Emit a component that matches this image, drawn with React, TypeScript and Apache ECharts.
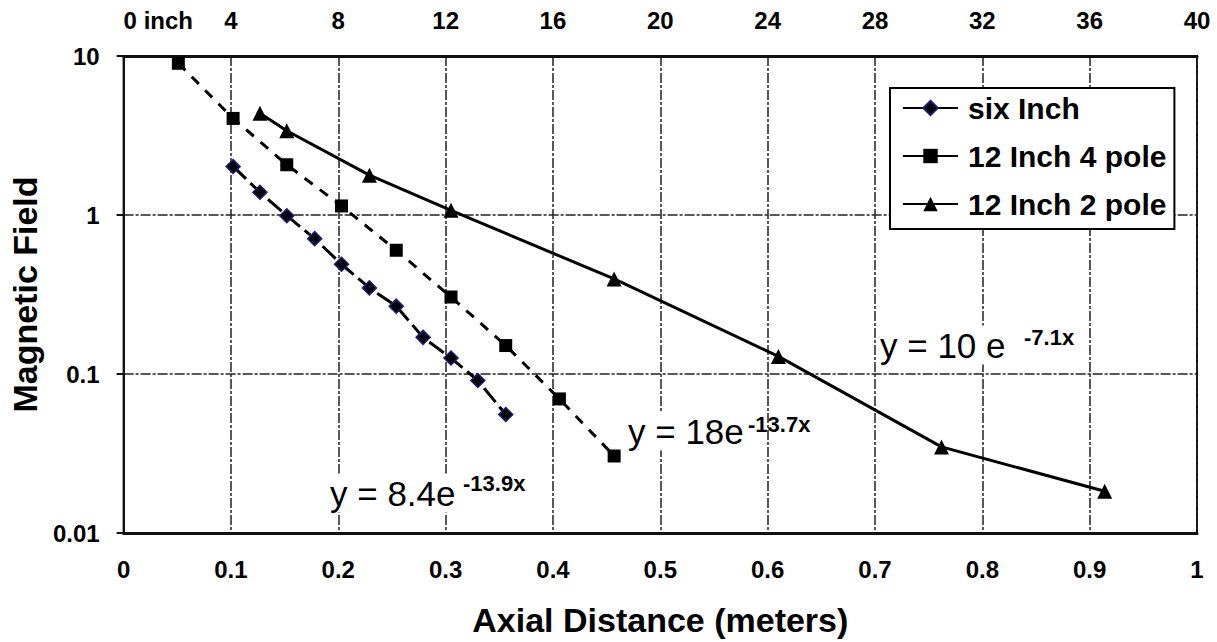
import React, { useEffect, useRef } from "react";
import * as echarts from "echarts";

// Axial distance (meters) and magnetic field readings
const sixInchX = [0.102, 0.127, 0.152, 0.178, 0.203, 0.229, 0.254, 0.279, 0.305, 0.33, 0.356];
const sixInchY = [2.02, 1.39, 0.99, 0.71, 0.49, 0.348, 0.267, 0.17, 0.126, 0.091, 0.0556];

const fourPoleX = [0.051, 0.102, 0.152, 0.203, 0.254, 0.305, 0.356, 0.406, 0.457];
const fourPoleY = [9.0, 4.05, 2.07, 1.14, 0.6, 0.305, 0.151, 0.0697, 0.0305];

const twoPoleX = [0.127, 0.152, 0.229, 0.305, 0.457, 0.61, 0.762, 0.914];
const twoPoleY = [4.36, 3.39, 1.78, 1.07, 0.396, 0.129, 0.0348, 0.0183];

const seriesNames = ["six Inch", "12 Inch 4 pole", "12 Inch 2 pole"];

const FONT = '"Liberation Sans", Arial, sans-serif';

const zip = (xs: number[], ys: number[]) => xs.map((x, i) => [x, ys[i]]);

export default function App() {
  const ref = useRef<HTMLDivElement>(null);

  useEffect(() => {
    if (!ref.current) return;
    const chart = echarts.init(ref.current, undefined, { renderer: "svg" });
    const gridLine = { show: true, lineStyle: { color: "#222", type: [10, 2, 3, 2], width: 1.5 } };
    const tickLabel = { fontFamily: FONT, fontWeight: "bold" as const, fontSize: 24, color: "#000" };

    const option: any = {
      animation: false,
      backgroundColor: "#fff",
      grid: {
        left: 116,
        right: 20,
        top: 56,
        bottom: 103,
        show: true,
        borderColor: "#111",
        borderWidth: 2,
        backgroundColor: "#fff",
      },
      xAxis: [
        {
          type: "value",
          min: 0,
          max: 1,
          interval: 0.1,
          position: "bottom",
          axisLine: { show: true, lineStyle: { color: "#111", width: 3 } },
          axisTick: { show: false },
          axisLabel: { ...tickLabel, margin: 24 },
          splitLine: gridLine,
          name: "Axial Distance (meters)",
          nameLocation: "middle",
          nameGap: 70,
          nameTextStyle: { fontFamily: FONT, fontWeight: "bold", fontSize: 34, color: "#000" },
        },
        {
          type: "value",
          min: 0,
          max: 40,
          interval: 4,
          position: "top",
          axisLine: { show: true, lineStyle: { color: "#111", width: 3 } },
          axisTick: { show: false },
          splitLine: { show: false },
          axisLabel: {
            ...tickLabel,
            margin: 24,
            alignMinLabel: "left",
            formatter: (v: number) => (v === 0 ? "0 inch" : String(v)),
          },
        },
      ],
      yAxis: {
        type: "log",
        logBase: 10,
        min: 0.01,
        max: 10,
        axisLine: { show: true, lineStyle: { color: "#111", width: 2 } },
        axisTick: { show: true, inside: false, length: 7, lineStyle: { color: "#111", width: 2 } },
        minorTick: { show: false },
        axisLabel: {
          ...tickLabel,
          margin: 24,
          formatter: (v: number) => String(parseFloat(v.toPrecision(3))),
        },
        splitLine: gridLine,
        name: "Magnetic Field",
        nameLocation: "middle",
        nameGap: 74,
        nameTextStyle: { fontFamily: FONT, fontWeight: "bold", fontSize: 34, color: "#000" },
      },
      legend: {
        orient: "vertical",
        left: 890,
        top: 88,
        padding: [5, 8, 10, 12],
        borderColor: "#000",
        borderWidth: 2,
        borderRadius: 0,
        backgroundColor: "#fff",
        itemWidth: 55,
        itemHeight: 18,
        itemGap: 18,
        data: seriesNames,
        lineStyle: { type: "solid", width: 2, color: "#000" },
        textStyle: {
          fontFamily: FONT,
          fontWeight: "bold",
          fontSize: 30,
          color: "#000",
          lineHeight: 30,
          padding: [0, 0, 0, 5],
        },
      },
      series: [
        {
          name: seriesNames[0],
          type: "line",
          data: zip(sixInchX, sixInchY),
          symbol: "diamond",
          symbolSize: 14,
          itemStyle: { color: "#000", borderColor: "#1c1c7a", borderWidth: 1.5 },
          lineStyle: { color: "#000", width: 3, type: [18, 6] },
          z: 5,
        },
        {
          name: seriesNames[1],
          type: "line",
          data: zip(fourPoleX, fourPoleY),
          symbol: "rect",
          symbolSize: 13,
          itemStyle: { color: "#000" },
          lineStyle: { color: "#000", width: 3, type: [10, 9] },
          z: 4,
        },
        {
          name: seriesNames[2],
          type: "line",
          data: zip(twoPoleX, twoPoleY),
          symbol: "triangle",
          symbolSize: 15,
          itemStyle: { color: "#000" },
          lineStyle: { color: "#000", width: 3, type: "solid" },
          z: 3,
        },
      ],
      graphic: [
        {
          type: "text",
          x: 326,
          y: 493,
          z: 10,
          style: {
            text: "y = 8.4e",
            font: `35px ${FONT}`,
            fill: "#000",
            verticalAlign: "middle",
            backgroundColor: "#fff",
            padding: [2, 4],
          },
        },
        {
          type: "text",
          x: 463,
          y: 483,
          z: 11,
          style: { text: "-13.9x", font: `bold 22px ${FONT}`, fill: "#000", verticalAlign: "middle" },
        },
        {
          type: "text",
          x: 624,
          y: 431,
          z: 10,
          style: {
            text: "y = 18e",
            font: `35px ${FONT}`,
            fill: "#000",
            verticalAlign: "middle",
            backgroundColor: "#fff",
            padding: [2, 4],
          },
        },
        {
          type: "text",
          x: 748,
          y: 424,
          z: 11,
          style: { text: "-13.7x", font: `bold 22px ${FONT}`, fill: "#000", verticalAlign: "middle" },
        },
        {
          type: "text",
          x: 876,
          y: 345,
          z: 10,
          style: {
            text: "y = 10 e ",
            font: `35px ${FONT}`,
            fill: "#000",
            verticalAlign: "middle",
            backgroundColor: "#fff",
            padding: [2, 4],
          },
        },
        {
          type: "text",
          x: 1020,
          y: 337,
          z: 11,
          style: {
            text: "-7.1x",
            font: `bold 22px ${FONT}`,
            fill: "#000",
            verticalAlign: "middle",
            backgroundColor: "#fff",
            padding: [2, 4],
          },
        },
      ],
    };

    chart.setOption(option);
    return () => chart.dispose();
  }, []);

  return (
    <div
      ref={ref}
      style={{ position: "fixed", left: 0, top: 0, width: 1217, height: 642, background: "#fff" }}
    />
  );
}
